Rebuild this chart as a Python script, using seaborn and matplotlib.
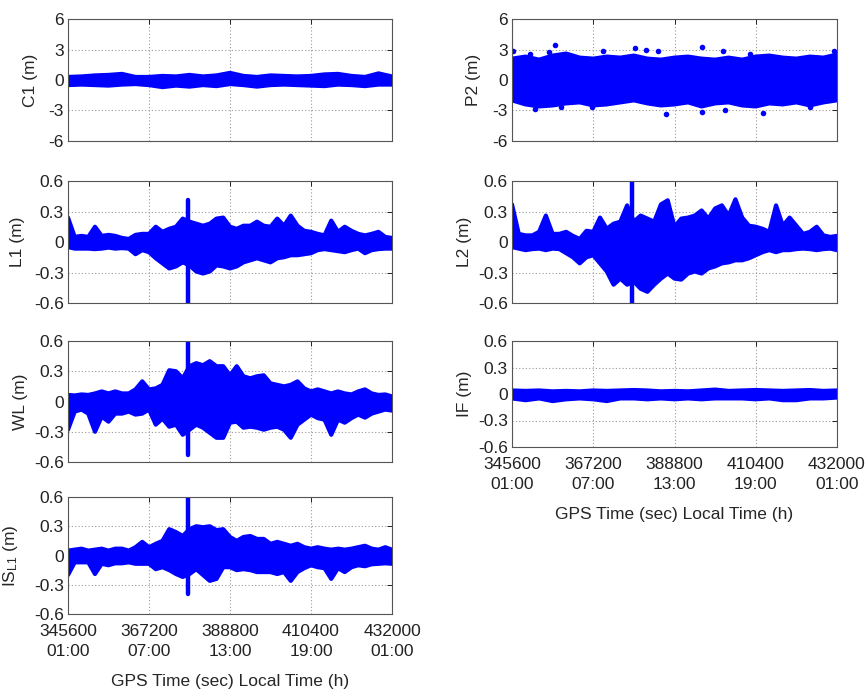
import numpy as np
import pandas as pd
import matplotlib
matplotlib.use("Agg")
import matplotlib.pyplot as plt
import seaborn as sns

sns.set_style("white")
plt.rcParams['font.family'] = ['Liberation Sans', 'DejaVu Sans']
plt.rcParams['mathtext.fontset'] = 'custom'
plt.rcParams['mathtext.rm'] = 'Liberation Sans'
plt.rcParams['mathtext.it'] = 'Liberation Sans:italic'
plt.rcParams['font.size'] = 12.5

BLUE = '#0000ff'
T0 = 345600  # GPS seconds of week at 01:00 local time

# ---- time axis -------------------------------------------------------
xtick_sec = [345600, 367200, 388800, 410400, 432000]
xtick_local = ['01:00', '07:00', '13:00', '19:00', '01:00']
xlabel_text = 'GPS Time (sec) Local Time (h)'

# sampling grids (hours after T0) on which the residual envelopes were read
hours_half = np.arange(0, 24.5, 0.5)
hours_full = np.arange(0, 25, 1)

# ---- code residuals (m), hourly envelopes ----------------------------
c1_upper = [0.3, 0.35, 0.45, 0.5, 0.6, 0.3, 0.3, 0.4, 0.35, 0.5, 0.35, 0.45, 0.7,
            0.4, 0.3, 0.45, 0.4, 0.35, 0.4, 0.55, 0.6, 0.4, 0.3, 0.65, 0.35]
c1_lower = [-0.5, -0.45, -0.5, -0.55, -0.45, -0.4, -0.5, -0.7, -0.55, -0.65, -0.5, -0.6, -0.4,
            -0.5, -0.65, -0.5, -0.45, -0.5, -0.55, -0.6, -0.45, -0.5, -0.6, -0.45, -0.45]

p2_upper = [2.1, 2.3, 2.0, 2.4, 2.6, 2.2, 2.1, 2.3, 2.2, 2.4, 2.1, 2.0, 2.2,
            2.3, 2.1, 2.0, 2.2, 2.0, 2.3, 2.4, 2.2, 2.1, 2.3, 2.2, 2.5]
p2_lower = [-2.0, -2.4, -2.6, -2.5, -2.3, -2.2, -2.5, -2.4, -2.2, -2.0, -2.3, -2.5, -2.4,
            -2.2, -2.6, -2.3, -2.2, -2.5, -2.6, -2.3, -2.4, -2.2, -2.5, -2.2, -2.0]
# isolated P2 outliers (hour, metres)
p2_out_hours = [0.1, 1.3, 2.7, 3.15, 6.7, 9.1, 9.9, 10.8, 14.0, 15.6, 17.6, 23.8,
                1.7, 3.6, 5.9, 11.4, 14.0, 15.7, 18.5, 22.0]
p2_out_vals = [2.9, 2.6, 2.75, 3.4, 2.9, 3.1, 3.0, 2.85, 3.25, 2.85, 2.6, 2.9,
               -2.9, -2.7, -2.7, -3.3, -3.1, -3.0, -3.2, -2.7]

# ---- phase residuals (m), half-hourly envelopes ----------------------
l1_upper = [0.24, 0.05, 0.06, 0.05, 0.15, 0.06, 0.07, 0.06, 0.04, 0.03, 0.07, 0.08, 0.08,
            0.15, 0.1, 0.13, 0.15, 0.23, 0.2, 0.18, 0.16, 0.18, 0.23, 0.24, 0.15,
            0.13, 0.16, 0.16, 0.2, 0.16, 0.15, 0.23, 0.16, 0.26, 0.16, 0.11, 0.1,
            0.08, 0.065, 0.21, 0.1, 0.15, 0.11, 0.08, 0.065, 0.08, 0.1, 0.05, 0.04]
l1_lower = [-0.05, -0.065, -0.065, -0.065, -0.07, -0.065, -0.055, -0.065, -0.06, -0.065, -0.12, -0.08, -0.1,
            -0.16, -0.21, -0.26, -0.24, -0.2, -0.23, -0.29, -0.31, -0.29, -0.23, -0.24, -0.26,
            -0.24, -0.2, -0.18, -0.16, -0.18, -0.2, -0.16, -0.15, -0.13, -0.13, -0.12, -0.11,
            -0.08, -0.07, -0.08, -0.09, -0.1, -0.08, -0.065, -0.11, -0.08, -0.07, -0.065, -0.065]

l2_upper = [0.37, 0.08, 0.065, 0.065, 0.1, 0.26, 0.08, 0.08, 0.1, 0.06, 0.03, 0.11, 0.1,
            0.24, 0.13, 0.18, 0.2, 0.36, 0.2, 0.26, 0.23, 0.2, 0.37, 0.41, 0.15,
            0.23, 0.24, 0.26, 0.31, 0.23, 0.33, 0.36, 0.26, 0.42, 0.24, 0.16, 0.15,
            0.13, 0.1, 0.36, 0.16, 0.24, 0.16, 0.08, 0.1, 0.15, 0.065, 0.05, 0.06]
l2_lower = [-0.05, -0.065, -0.08, -0.07, -0.065, -0.08, -0.065, -0.07, -0.11, -0.15, -0.21, -0.15, -0.13,
            -0.21, -0.29, -0.42, -0.36, -0.42, -0.39, -0.46, -0.49, -0.42, -0.36, -0.31, -0.36,
            -0.37, -0.31, -0.29, -0.31, -0.26, -0.24, -0.21, -0.2, -0.18, -0.18, -0.16, -0.13,
            -0.1, -0.08, -0.1, -0.08, -0.08, -0.07, -0.065, -0.07, -0.08, -0.07, -0.065, -0.08]

wl_upper = [0.065, 0.06, 0.07, 0.065, 0.08, 0.1, 0.08, 0.1, 0.08, 0.08, 0.12, 0.2, 0.12,
            0.13, 0.165, 0.31, 0.3, 0.23, 0.35, 0.38, 0.36, 0.4, 0.35, 0.35, 0.26,
            0.35, 0.25, 0.23, 0.25, 0.26, 0.18, 0.165, 0.15, 0.165, 0.2, 0.13, 0.1,
            0.12, 0.1, 0.08, 0.1, 0.08, 0.07, 0.1, 0.12, 0.08, 0.065, 0.07, 0.05]
wl_lower = [-0.28, -0.1, -0.08, -0.12, -0.3, -0.15, -0.2, -0.12, -0.12, -0.1, -0.13, -0.12, -0.08,
            -0.23, -0.17, -0.25, -0.23, -0.33, -0.28, -0.23, -0.26, -0.31, -0.36, -0.36, -0.21,
            -0.2, -0.26, -0.25, -0.26, -0.28, -0.26, -0.25, -0.28, -0.36, -0.23, -0.18, -0.13,
            -0.165, -0.18, -0.33, -0.18, -0.21, -0.165, -0.13, -0.16, -0.12, -0.1, -0.08, -0.09]

if_upper = [0.04, 0.035, 0.04, 0.03, 0.035, 0.03, 0.04, 0.035, 0.04, 0.045, 0.04, 0.03, 0.035,
            0.03, 0.04, 0.05, 0.035, 0.04, 0.045, 0.04, 0.035, 0.04, 0.045, 0.035, 0.04]
if_lower = [-0.05, -0.07, -0.05, -0.08, -0.06, -0.05, -0.06, -0.08, -0.05, -0.05, -0.06, -0.05, -0.06,
            -0.05, -0.06, -0.05, -0.05, -0.05, -0.06, -0.05, -0.07, -0.07, -0.05, -0.05, -0.04]

is_upper = [0.05, 0.06, 0.07, 0.05, 0.06, 0.07, 0.05, 0.07, 0.07, 0.05, 0.085, 0.14, 0.085,
            0.12, 0.15, 0.27, 0.24, 0.2, 0.27, 0.3, 0.29, 0.3, 0.26, 0.27, 0.19,
            0.15, 0.19, 0.2, 0.17, 0.17, 0.12, 0.14, 0.12, 0.1, 0.12, 0.085, 0.07,
            0.085, 0.07, 0.06, 0.07, 0.06, 0.07, 0.085, 0.1, 0.07, 0.06, 0.085, 0.06]
is_lower = [-0.2, -0.07, -0.07, -0.07, -0.19, -0.085, -0.1, -0.08, -0.08, -0.07, -0.085, -0.085, -0.085,
            -0.14, -0.12, -0.15, -0.19, -0.22, -0.19, -0.14, -0.2, -0.26, -0.24, -0.12, -0.12,
            -0.15, -0.14, -0.15, -0.17, -0.17, -0.17, -0.19, -0.17, -0.26, -0.17, -0.13, -0.1,
            -0.12, -0.13, -0.24, -0.13, -0.17, -0.12, -0.1, -0.11, -0.09, -0.085, -0.08, -0.085]

# short-lived excursion shared by the phase combinations (hour, low, high)
spike_hour = 8.86
l1_spike = (-0.6, 0.41)
l2_spike = (-0.6, 0.6)
wl_spike = (-0.53, 0.6)
is_spike = (-0.39, 0.6)

code_ticks = [-6, -3, 0, 3, 6]
code_ticklabels = ['-6', '-3', '0', '3', '6']
phase_ticks = [-0.6, -0.3, 0, 0.3, 0.6]
phase_ticklabels = ['-0.6', '-0.3', '0', '0.3', '0.6']


def to_sec(hours):
    return T0 + 3600.0 * np.asarray(hours, dtype=float)


def draw_band(ax, hours, lower, upper):
    t = to_sec(hours)
    ax.fill_between(t, lower, upper, color=BLUE, lw=0)
    df = pd.DataFrame({'t': t, 'upper': upper, 'lower': lower})
    sns.lineplot(data=df, x='t', y='upper', ax=ax, color=BLUE, lw=3, estimator=None)
    sns.lineplot(data=df, x='t', y='lower', ax=ax, color=BLUE, lw=3, estimator=None)


def draw_spike(ax, lo_hi):
    t = to_sec(spike_hour)
    ax.plot([t, t], list(lo_hi), color=BLUE, lw=3.2, solid_capstyle='round')


def style_axes(ax, ylabel, yticks, yticklabels, label_x, show_x):
    ax.set_xlim(xtick_sec[0], xtick_sec[-1])
    ax.set_ylim(yticks[0], yticks[-1])
    ax.set_xticks(xtick_sec)
    ax.set_yticks(yticks)
    ax.set_yticklabels(yticklabels)
    if show_x:
        ax.set_xticklabels([f'{s}\n{h}' for s, h in zip(xtick_sec, xtick_local)],
                           linespacing=1.45)
        ax.set_xlabel(xlabel_text, fontsize=12.5, labelpad=11)
    else:
        ax.set_xticklabels([])
        ax.set_xlabel('')
    ax.set_ylabel(ylabel, fontsize=12.5)
    ax.yaxis.set_label_coords(label_x, 0.5)
    ax.grid(True, color='#9a9a9a', linestyle=(0, (1, 2)), linewidth=0.8)
    ax.set_axisbelow(True)
    ax.tick_params(direction='in', length=3.5, width=0.7, top=True, right=True,
                   labelsize=12.5, colors='#222222', pad=3)
    ax.tick_params(axis='x', pad=7)
    for sp in ax.spines.values():
        sp.set_visible(True)
        sp.set_color('#555555')
        sp.set_linewidth(0.8)


fig = plt.figure(figsize=(8.68, 6.92), dpi=100)
W, H = 868.0, 692.0


def add_axes(x0, y0, x1, y1):
    return fig.add_axes([x0 / W, 1 - y1 / H, (x1 - x0) / W, (y1 - y0) / H])


ax_c1 = add_axes(68, 19, 392, 141)
ax_l1 = add_axes(68, 181, 392, 303)
ax_wl = add_axes(68, 341, 392, 462)
ax_is = add_axes(68, 497, 392, 614)
ax_p2 = add_axes(512, 19, 837, 141)
ax_l2 = add_axes(512, 181, 837, 303)
ax_if = add_axes(512, 341, 837, 447)

# C1
draw_band(ax_c1, hours_full, c1_lower, c1_upper)
style_axes(ax_c1, 'C1 (m)', code_ticks, code_ticklabels, -0.093, False)

# P2
draw_band(ax_p2, hours_full, p2_lower, p2_upper)
sns.scatterplot(x=to_sec(p2_out_hours), y=p2_out_vals, ax=ax_p2, color=BLUE,
                s=16, linewidth=0)
style_axes(ax_p2, 'P2 (m)', code_ticks, code_ticklabels, -0.095, False)

# L1
draw_band(ax_l1, hours_half, l1_lower, l1_upper)
draw_spike(ax_l1, l1_spike)
style_axes(ax_l1, 'L1 (m)', phase_ticks, phase_ticklabels, -0.133, False)

# L2
draw_band(ax_l2, hours_half, l2_lower, l2_upper)
draw_spike(ax_l2, l2_spike)
style_axes(ax_l2, 'L2 (m)', phase_ticks, phase_ticklabels, -0.123, False)

# WL
draw_band(ax_wl, hours_half, wl_lower, wl_upper)
draw_spike(ax_wl, wl_spike)
style_axes(ax_wl, 'WL (m)', phase_ticks, phase_ticklabels, -0.123, False)

# IF
draw_band(ax_if, hours_full, if_lower, if_upper)
style_axes(ax_if, 'IF (m)', phase_ticks, phase_ticklabels, -0.123, True)

# IS_L1
draw_band(ax_is, hours_half, is_lower, is_upper)
draw_spike(ax_is, is_spike)
style_axes(ax_is, r'IS$_{\mathregular{L1}}$ (m)', phase_ticks, phase_ticklabels, -0.148, True)

fig.savefig('out.png', dpi=100, facecolor='white')
